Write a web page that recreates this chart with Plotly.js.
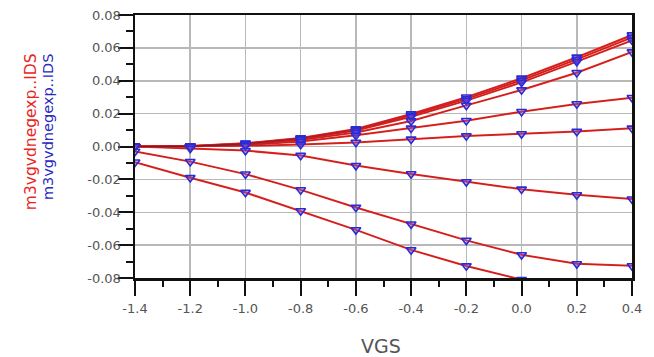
<!DOCTYPE html>
<html>
<head>
<meta charset="utf-8">
<script src="https://cdn.plot.ly/plotly-3.0.1.min.js"></script>
<style>html,body{margin:0;padding:0;background:#fff;}#chart{width:654px;height:357px;}</style>
</head>
<body>
<div id="chart"></div>
<script>
// VGS sweep values
const vgs = [-1.4, -1.2, -1.0, -0.8, -0.6, -0.4, -0.2, 0.0, 0.2, 0.4];

// IDS curves (one per bias step)
const idsA1 = [0, 0.0003, 0.0020, 0.0052, 0.0107, 0.0198, 0.0300, 0.0415, 0.0543, 0.0678];
const idsA2 = [0, 0.0002, 0.0018, 0.0049, 0.0102, 0.0190, 0.0290, 0.0403, 0.0530, 0.0663];
const idsA3 = [0, 0.0002, 0.0016, 0.0046, 0.0097, 0.0181, 0.0279, 0.0390, 0.0516, 0.0646];
const idsA4 = [0, 0.0001, 0.0013, 0.0040, 0.0085, 0.0155, 0.0250, 0.0344, 0.0449, 0.0575];
const idsB  = [0, 0.0001, 0.0009, 0.0030, 0.0068, 0.0111, 0.0157, 0.0212, 0.0259, 0.0297];
const idsC  = [0, 0.0000, 0.0004, 0.0012, 0.0025, 0.0044, 0.0064, 0.0077, 0.0091, 0.0111];
const idsN3 = [0, -0.0012, -0.0025, -0.0055, -0.0116, -0.0167, -0.0215, -0.0260, -0.0294, -0.0320];
const idsN2 = [-0.0030, -0.0092, -0.0168, -0.0264, -0.0371, -0.0472, -0.0571, -0.0659, -0.0714, -0.0726];
const idsN1 = [-0.0095, -0.0190, -0.0280, -0.0392, -0.0507, -0.0629, -0.0727, -0.0810];

const curves = [idsA1, idsA2, idsA3, idsA4, idsB, idsC, idsN3, idsN2, idsN1];

// Tick labels
const xTickVals = [-1.4, -1.2, -1.0, -0.8, -0.6, -0.4, -0.2, 0.0, 0.2, 0.4];
const xTickText = ['-1.4', '-1.2', '-1.0', '-0.8', '-0.6', '-0.4', '-0.2', '0.0', '0.2', '0.4'];
const yTickVals = [-0.08, -0.06, -0.04, -0.02, 0.0, 0.02, 0.04, 0.06, 0.08];
const yTickText = ['-0.08', '-0.06', '-0.04', '-0.02', '0.00', '0.02', '0.04', '0.06', '0.08'];

const seriesName = 'm3vgvdnegexp..IDS';
const xRange = [-1.4, 0.4];
const yRange = [-0.08, 0.08];

const traces = [];
// simulated (red lines)
curves.forEach(c => {
  traces.push({
    x: vgs.slice(0, c.length), y: c, type: 'scatter', mode: 'lines',
    line: {color: '#f0281e', width: 2}, hoverinfo: 'skip', showlegend: false
  });
});
// measured (blue markers with thin line)
curves.forEach(c => {
  traces.push({
    x: vgs.slice(0, c.length), y: c, type: 'scatter', mode: 'lines+markers',
    line: {color: 'rgba(110,20,50,0.55)', width: 0.7},
    marker: {symbol: 'triangle-down', size: 8.5, color: 'rgba(160,100,230,0.3)',
             line: {color: '#2b2bd6', width: 1.6}},
    hoverinfo: 'skip', showlegend: false
  });
});
// invisible trace to hold the minor-tick overlay axes
traces.push({x: [xRange[0]], y: [yRange[0]], xaxis: 'x2', yaxis: 'y2', type: 'scatter',
  mode: 'markers', marker: {opacity: 0}, hoverinfo: 'skip', showlegend: false});

const tickFont = {family: 'DejaVu Sans', size: 13, color: '#555'};

const layout = {
  width: 654, height: 357,
  margin: {l: 135, r: 22, t: 15, b: 79},
  paper_bgcolor: '#fff', plot_bgcolor: '#fff',
  showlegend: false,
  xaxis: {
    range: xRange, tickmode: 'array', tickvals: xTickVals, ticktext: xTickText,
    showline: true, mirror: true, linecolor: '#111', linewidth: 2.5,
    showgrid: true, gridcolor: '#b8b8b8', gridwidth: 1.5, zeroline: false,
    ticks: 'outside', tickcolor: '#111', tickwidth: 2, ticklen: 15,
    ticklabelstandoff: 2, tickfont: tickFont
  },
  yaxis: {
    range: yRange, tickmode: 'array', tickvals: yTickVals, ticktext: yTickText,
    showline: true, mirror: true, linecolor: '#111', linewidth: 2.5,
    showgrid: true, gridcolor: '#b8b8b8', gridwidth: 1.5, zeroline: false,
    ticks: 'outside', tickcolor: '#111', tickwidth: 2, ticklen: 15,
    ticklabelstandoff: -6, tickfont: tickFont
  },
  xaxis2: {
    overlaying: 'x', anchor: 'y2', side: 'bottom', range: xRange,
    tickmode: 'linear', tick0: -1.4, dtick: 0.1,
    ticks: 'outside', ticklen: 8, tickwidth: 2, tickcolor: '#111',
    showticklabels: false, showgrid: false, zeroline: false, showline: false
  },
  yaxis2: {
    overlaying: 'y', anchor: 'x2', side: 'left', range: yRange,
    tickmode: 'linear', tick0: -0.08, dtick: 0.01,
    ticks: 'outside', ticklen: 8, tickwidth: 2, tickcolor: '#111',
    showticklabels: false, showgrid: false, zeroline: false, showline: false
  },
  annotations: [
    {text: 'VGS', xref: 'paper', yref: 'paper', x: 0.495, y: -0.259, showarrow: false,
     xanchor: 'center', yanchor: 'middle', font: {family: 'DejaVu Sans', size: 19, color: '#555'}},
    {text: seriesName, xref: 'paper', yref: 'paper', x: -0.209, y: 0.555, showarrow: false,
     textangle: -90, xanchor: 'center', yanchor: 'middle',
     font: {family: 'DejaVu Sans', size: 15.5, color: '#e8261e'}},
    {text: seriesName, xref: 'paper', yref: 'paper', x: -0.175, y: 0.574, showarrow: false,
     textangle: -90, xanchor: 'center', yanchor: 'middle',
     font: {family: 'DejaVu Sans', size: 14.5, color: '#2a2ac0'}}
  ]
};

Plotly.newPlot('chart', traces, layout, {staticPlot: true, displayModeBar: false});
</script>
</body>
</html>
